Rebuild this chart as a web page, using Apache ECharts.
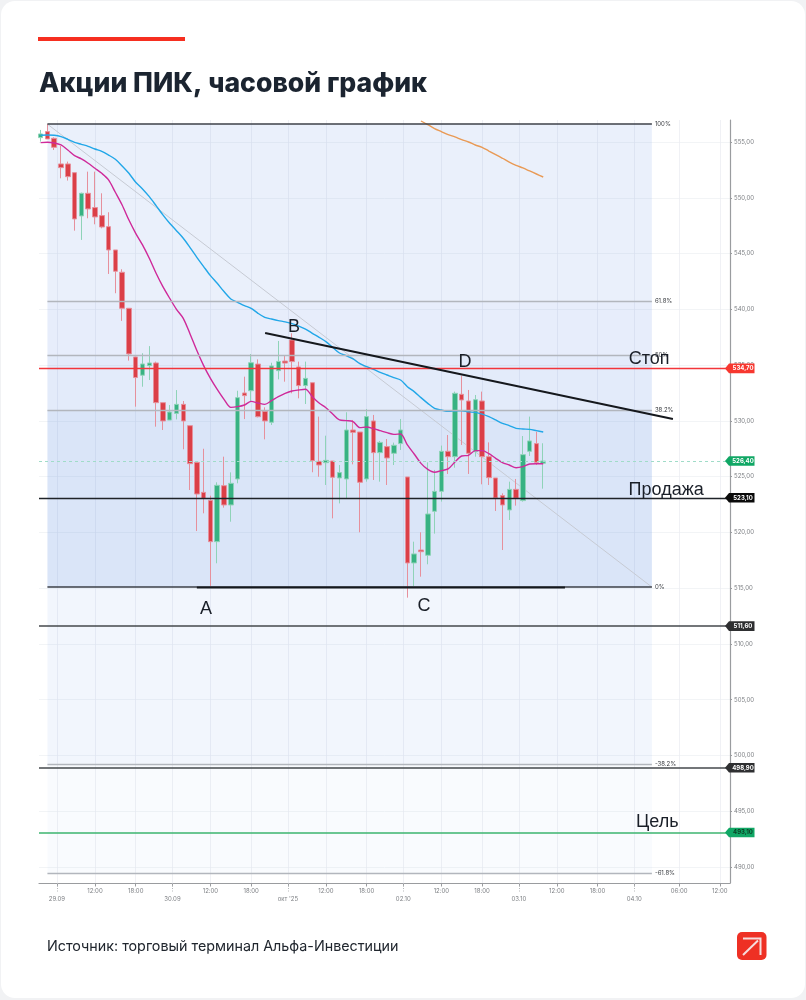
<!DOCTYPE html>
<html>
<head>
<meta charset="utf-8">
<style>
html,body{margin:0;padding:0;background:#f1f2f4;}
#card{position:absolute;left:1px;top:1px;width:804px;height:997px;background:#fff;border-radius:14px;}
#main{position:absolute;left:0;top:0;width:806px;height:1000px;}
</style>
</head>
<body>
<div id="card"></div>
<div id="main"></div>
<script src="https://cdn.jsdelivr.net/npm/echarts@6/dist/echarts.min.js"></script>
<script>
// hourly candles, one slot per hour
const openPrices = [555.39,555.93,555.33,553.03,553.03,552.25,548.37,550.4,549.12,548.4,547.41,545.32,543.32,540.09,535.73,534.09,534.95,535.19,531.63,530.07,530.67,531.48,529.57,526.28,523.59,522.87,519.17,524.19,522.46,524.79,532.5,532.7,535.09,530.85,529.87,534.5,535.36,537.25,534.83,533.16,533.42,526.37,526.25,526.4,524.88,524.79,529.18,529.0,524.79,529.99,527.15,527.69,527.09,527.96,524.97,517.26,518.42,517.95,521.89,523.68,527.27,526.79,532.38,531.78,527.24,531.78,526.79,524.88,523.3,522.01,523.86,522.85,527.27,527.96,526.2];
const closePrices = [555.72,555.27,554.52,552.7,551.89,548.1,550.4,549.0,548.28,547.38,545.32,543.41,540.09,536.0,533.88,535.1,535.19,531.63,529.99,530.79,531.48,529.99,526.16,523.44,523.05,519.17,524.22,522.46,524.4,532.08,532.26,535.21,530.37,529.99,534.92,535.33,535.18,535.31,533.16,533.81,526.43,526.04,526.46,524.94,525.36,529.18,528.97,524.49,530.38,527.15,528.07,526.67,527.81,529.18,517.26,518.07,518.27,521.65,523.68,527.27,526.79,532.47,531.87,527.09,531.9,526.79,524.91,523.09,522.46,523.86,523.06,526.97,528.2,526.28,526.4];
const lowPrices = [555.03,555.27,554.28,551.74,551.54,547.05,546.22,548.16,547.62,547.26,543.17,541.44,538.96,535.4,531.27,533.06,533.66,529.48,529.18,530.07,530.13,527.45,523.8,520.12,521.71,515.2,517.23,522.22,520.96,524.4,530.16,531.72,530.31,528.34,529.63,533.72,533.51,532.47,532.02,531.51,525.39,524.99,524.25,521.26,522.6,523.05,526.1,520.01,524.55,524.7,524.55,524.25,526.04,527.39,514.15,515.2,516.03,517.14,519.89,522.76,525.24,525.8,527.84,525.24,526.79,524.31,524.25,521.92,518.42,521.11,522.4,522.76,526.85,526.04,523.92];
const highPrices = [556.08,556.6,555.42,554.64,553.24,552.25,550.46,552.34,552.34,550.4,548.7,545.32,543.59,540.09,535.76,536.06,536.7,535.31,531.63,531.42,532.76,531.78,529.57,526.28,527.5,523.29,524.49,526.79,525.38,532.7,533.96,535.99,535.51,531.21,535.21,537.16,535.82,537.85,535.31,535.31,533.42,530.38,528.67,526.4,526.04,530.77,530.08,529.0,531.06,530.53,528.2,528.37,528.05,530.17,524.97,519.17,520.01,526.28,525.6,527.78,528.73,532.62,534.05,532.77,532.32,532.62,528.07,524.88,523.5,524.55,524.79,528.64,530.38,529.03,527.99];

const fastAverage = [554.94,554.97,554.91,554.73,554.28,553.78,553.48,553.09,552.64,552.19,551.6,550.49,549.35,548.0,546.81,545.77,544.57,543.23,542.03,540.99,540.0,539.19,537.79,536.3,534.95,533.81,532.82,531.93,531.21,531.27,531.42,531.75,531.6,531.48,531.81,532.17,532.47,532.68,532.77,532.83,532.17,531.6,531.18,530.62,530.08,530.02,529.93,529.39,529.45,529.3,529.12,528.94,528.79,528.82,527.84,527.03,526.19,525.65,525.39,525.54,525.69,526.31,526.85,526.91,527.33,527.33,527.06,526.64,526.25,526.04,525.8,525.9,526.13,526.16,526.16];
const slowAverage = [555.6,555.63,555.6,555.48,555.24,554.97,554.79,554.61,554.37,554.16,553.83,553.45,552.85,552.19,551.39,550.79,550.1,549.29,548.46,547.71,547.05,546.37,545.53,544.66,543.83,543.02,542.33,541.59,540.93,540.63,540.33,540.09,539.64,539.28,539.13,538.99,538.87,538.72,538.5,538.23,537.85,537.49,537.1,536.59,536.08,535.84,535.55,535.13,534.86,534.62,534.35,534.11,533.87,533.66,533.06,532.62,532.08,531.57,531.12,530.97,530.85,530.88,530.91,530.8,530.76,530.61,530.38,530.08,529.78,529.57,529.33,529.27,529.24,529.12,529.0];
// the long average only enters the frame at slot 56
const longAverageStart = 56;
const longAverage = [556.88,556.55,556.2,555.93,555.66,555.45,555.21,555.0,554.73,554.52,554.19,553.87,553.54,553.2,552.91,552.67,552.4,552.13,551.86];

const fibNames = ['100%','61.8%','50%','38.2%','0%','-38.2%','-61.8%'];
const fibPrices = [556.6,540.75,535.85,530.95,515.1,499.25,489.45];
const fibSlots = [1,90];

const levelPrices = [534.7,526.4,523.1,511.6,498.9,493.1];
const levelNames = ['534,70','526,40','523,10','511,60','498,90','493,10'];

const resistanceSlots = [33.05,93.1];
const resistancePrices = [537.88,530.17];
const supportSlots = [23,77.2];
const supportPrices = [515.05,515.05];

const noteTexts = ['A','B','C','D','Стоп','Продажа','Цель'];
const noteSlots = [24.36,37.3,56.46,62.5,89.6,92.1,90.8];
const notePrices = [513.13,538.41,513.4,535.28,535.54,523.8,494.03];

const priceTicks = [555,550,545,540,535,530,525,520,515,510,505,500,495,490];
const timeSlots = [8,14,25,31,42,48,59,65,76,82,94,100];
const timeNames = ['12:00','18:00','12:00','18:00','12:00','18:00','12:00','18:00','12:00','18:00','06:00','12:00'];
const daySlots = [2.4,19.4,36.4,53.4,70.4,87.4];
const dayNames = ['29.09','30.09',"окт '25",'02.10','03.10','04.10'];

const slotMin = -0.24, slotMax = 101.5;
const priceMin = 488.57, priceMax = 556.97;

const uiFont = 'Inter, "Noto Sans", sans-serif';

const levelStyles = [
    {line:'#f2353a',width:1.4,type:'solid',tag:'#f7372f',text:'#fff'},
    {line:'#a0dcc8',width:1,type:[3,3],tag:'#10a765',text:'#fff'},
    {line:'#1f2328',width:1.4,type:'solid',tag:'#0a0a0a',text:'#fff'},
    {line:'#45484c',width:1.6,type:'solid',tag:'#2e2f31',text:'#fff'},
    {line:'#45484c',width:1.6,type:'solid',tag:'#2e2f31',text:'#fff'},
    {line:'#3cb56f',width:1.6,type:'solid',tag:'#10a765',text:'#0b3d24'}
];
// blue shading gets stronger towards the 0% level
const zoneAlpha = [0.11,0.125,0.145,0.19,0.065,0.03];

const chart = echarts.init(document.getElementById('main'), null, {renderer:'canvas'});

const zoneData = zoneAlpha.map((a,i)=>[
    {coord:[fibSlots[0],fibPrices[i]],itemStyle:{color:`rgba(60,115,220,${a})`}},
    {coord:[fibSlots[1],fibPrices[i+1]]}
]);
const fibLines = fibNames.map((name,i)=>{
    const strong = name === '100%' || name === '0%';
    const style = {color:strong ? '#3c4048' : '#b2b6bd',width:strong ? 1.5 : 1.3,type:'solid'};
    return [
        {coord:[fibSlots[0],fibPrices[i]],lineStyle:style,label:{formatter:name}},
        {coord:[fibSlots[1],fibPrices[i]]}
    ];
});

const lineSeries = (name,data,color,width,z,smooth)=>({
    name:name,
    type:'line',
    data:data,
    showSymbol:false,
    symbol:'none',
    smooth:smooth,
    z:z,
    silent:true,
    lineStyle:{color:color,width:width},
    itemStyle:{color:color}
});

const renderTag = (params,api)=>{
    const p = api.coord([slotMax,api.value(0)]);
    const x = p[0], y = p[1];
    const st = levelStyles[params.dataIndex];
    return {
        type:'group',
        children:[
            {type:'polygon',shape:{points:[[x-5,y],[x-1,y-4.8],[x+24.5,y-4.8],[x+24.5,y+4.8],[x-1,y+4.8]]},style:{fill:st.tag}},
            {type:'text',style:{x:x+13,y:y,text:levelNames[params.dataIndex],fill:st.text,font:'bold 6px '+uiFont,textAlign:'center',textVerticalAlign:'middle'}}
        ]
    };
};

const option = {
    animation:false,
    backgroundColor:'transparent',
    title:[
        {text:'Акции ПИК, часовой график',left:39,top:70,padding:0,textStyle:{fontFamily:uiFont,fontWeight:800,fontSize:26.6,color:'#1b2430'}},
        {text:'Источник: торговый терминал Альфа-Инвестиции',left:47,top:940,padding:0,textStyle:{fontFamily:uiFont,fontWeight:400,fontSize:14.3,color:'#20262e'}}
    ],
    graphic:[
        {type:'rect',left:38,top:37,shape:{width:147,height:4},style:{fill:'#f62f20'}},
        {type:'rect',left:737,top:932,shape:{width:29.5,height:28,r:5},style:{fill:'#ee3024'}},
        {type:'polyline',shape:{points:[[743,938.5],[760.5,938.5],[760.5,955]]},style:{stroke:'#f6dcdc',lineWidth:2,fill:null}},
        {type:'line',shape:{x1:743,y1:955,x2:758,y2:940.5},style:{stroke:'#f6dcdc',lineWidth:2}}
    ],
    grid:{left:39,top:120,width:691,height:763,containLabel:false},
    xAxis:[
        {
            type:'value',min:slotMin,max:slotMax,
            axisLine:{lineStyle:{color:'#9a9c9f',width:1.2}},
            axisTick:{customValues:timeSlots.concat(daySlots),length:3.5,lineStyle:{color:'#9a9c9f'}},
            axisLabel:{
                customValues:timeSlots,color:'#7c7f83',fontSize:6,fontFamily:uiFont,margin:5,hideOverlap:false,showMinLabel:true,showMaxLabel:true,
                formatter:v=>timeNames[timeSlots.indexOf(v)]
            },
            splitLine:{show:true,lineStyle:{color:'#eceef2',width:0.8}}
        },
        {
            type:'value',min:slotMin,max:slotMax,position:'bottom',
            axisLine:{show:false},
            axisTick:{customValues:daySlots,length:9,lineStyle:{color:'#b4b6b9',type:[1,1.5]}},
            axisLabel:{
                customValues:daySlots,color:'#7c7f83',fontSize:6,fontFamily:uiFont,margin:13,
                formatter:v=>dayNames[daySlots.indexOf(v)]
            },
            splitLine:{show:false}
        }
    ],
    yAxis:{
        type:'value',position:'right',min:priceMin,max:priceMax,
        axisLine:{show:true,onZero:false,lineStyle:{color:'#9a9c9f',width:1.2}},
        axisTick:{show:true,customValues:priceTicks,length:2,lineStyle:{color:'#9a9c9f'}},
        axisLabel:{
            customValues:priceTicks,color:'#7c7f83',fontSize:6,fontFamily:uiFont,margin:4,
            formatter:v=>v.toFixed(2).replace('.',',')
        },
        splitLine:{show:true,lineStyle:{color:'#eff1f4',width:0.8}}
    },
    series:[
        {
            name:'Фибоначчи',type:'line',z:1,silent:true,symbol:'none',showSymbol:false,
            data:[[fibSlots[0],fibPrices[0]],[fibSlots[1],fibPrices[4]]],
            lineStyle:{color:'#c6cad3',width:1},
            markArea:{silent:true,data:zoneData},
            markLine:{
                silent:true,symbol:'none',precision:2,
                label:{show:true,position:'end',distance:3,color:'#3a3d42',fontSize:6,fontFamily:uiFont},
                data:fibLines
            }
        },
        {
            name:'ПИК',type:'candlestick',z:3,silent:true,barWidth:5,
            data:openPrices.map((o,i)=>[i,o,closePrices[i],lowPrices[i],highPrices[i]]),
            itemStyle:{color:'#37b283',color0:'#db3f47',borderColor:'#8fd3b8',borderColor0:'#e6909c',borderWidth:1}
        },
        lineSeries('Средняя 1',slowAverage.map((v,i)=>[i,v]),'#22a7e8',1.4,4,0.3),
        lineSeries('Средняя 2',fastAverage.map((v,i)=>[i,v]),'#cf2a9a',1.4,4,0.3),
        lineSeries('Средняя 3',longAverage.map((v,i)=>[i+longAverageStart,v]),'#e99a55',1.4,4,0.3),
        lineSeries('Сопротивление',resistanceSlots.map((s,i)=>[s,resistancePrices[i]]),'#15181d',2,6,false),
        lineSeries('Поддержка',supportSlots.map((s,i)=>[s,supportPrices[i]]),'#15181d',2,6,false),
        {
            name:'Уровни',type:'custom',z:5,silent:true,
            data:levelPrices.map(p=>[p]),
            encode:{y:0},
            renderItem:renderTag,
            markLine:{
                silent:true,symbol:'none',label:{show:false},
                data:levelPrices.map((p,i)=>({
                    yAxis:p,
                    lineStyle:{color:levelStyles[i].line,width:levelStyles[i].width,type:levelStyles[i].type}
                }))
            }
        },
        {
            name:'Подписи',type:'scatter',z:7,silent:true,symbolSize:1,
            data:noteTexts.map((t,i)=>({name:t,value:[noteSlots[i],notePrices[i]]})),
            itemStyle:{color:'rgba(0,0,0,0)',opacity:1},
            label:{
                show:true,position:'inside',formatter:'{b}',color:'#1a1f28',opacity:1,fontSize:18,
                fontFamily:'"Liberation Sans", Arial, sans-serif'
            }
        }
    ]
};

chart.setOption(option);
</script>
</body>
</html>
